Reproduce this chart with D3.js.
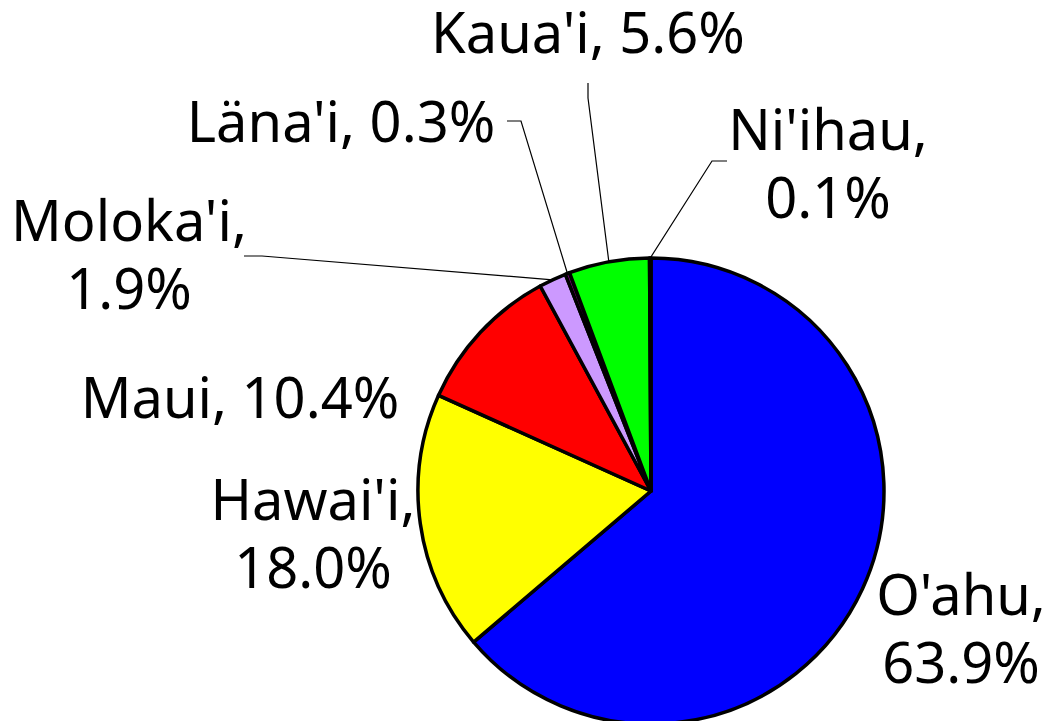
<!DOCTYPE html>
<html>
<head>
<meta charset="utf-8">
<script src="https://cdn.jsdelivr.net/npm/d3@7"></script>
<style>
  body { margin: 0; background: #fff; }
  text { font-family: "Noto Sans", sans-serif; font-size: 56px; fill: #000; }
</style>
</head>
<body>
<div id="chart"></div>
<script>
// island share of population (%)
const islands = ["O'ahu", "Hawai'i", "Maui", "Moloka'i", "Läna'i", "Kaua'i", "Ni'ihau"];
const shares = [63.9, 18.0, 10.4, 1.9, 0.3, 5.6, 0.1];
const colors = ["#0000ff", "#ffff00", "#ff0000", "#cc99ff", "#800080", "#00ff00", "#00ffff"];

// label placement: lines of text, centre x, first baseline, leader elbow (or null)
const labelLayout = [
    { lines: ["O'ahu,", "63.9%"], x: 961, y: 615, elbow: null },
    { lines: ["Hawai'i,", "18.0%"], x: 313, y: 520, elbow: null },
    { lines: ["Maui, 10.4%"], x: 240, y: 418, elbow: null },
    { lines: ["Moloka'i,", "1.9%"], x: 129, y: 241, elbow: [[244, 256], [262, 256]] },
    { lines: ["Läna'i, 0.3%"], x: 341, y: 142, elbow: [[507, 121], [521, 121]] },
    { lines: ["Kaua'i, 5.6%"], x: 588, y: 53, elbow: [[588, 83], [588, 98]] },
    { lines: ["Ni'ihau,", "0.1%"], x: 828, y: 150, elbow: [[727, 161], [712, 161]] }
];

const width = 1049, height = 721;
const cx = 651, cy = 491, radius = 233;
const lineHeight = 68;

const svg = d3.select("#chart").append("svg")
    .attr("width", width)
    .attr("height", height);

const data = islands.map((name, i) => ({ name, value: shares[i], color: colors[i], layout: labelLayout[i] }));

const pie = d3.pie().sort(null).value(d => d.value);
const arc = d3.arc().innerRadius(0).outerRadius(radius);
const arcs = pie(data);

const g = svg.append("g").attr("transform", `translate(${cx},${cy})`);

// slices
g.selectAll(".slice")
    .data(arcs)
    .enter()
    .append("path")
    .attr("class", "slice")
    .attr("d", arc)
    .attr("fill", d => d.data.color)
    .attr("stroke", "#000")
    .attr("stroke-width", 3.5)
    .attr("stroke-linejoin", "round");

// leader lines
arcs.filter(d => d.data.layout.elbow).forEach(d => {
    const mid = (d.startAngle + d.endAngle) / 2;
    const end = [cx + radius * Math.sin(mid), cy - radius * Math.cos(mid)];
    const pts = d.data.layout.elbow.concat([end]);
    svg.append("path")
        .attr("d", d3.line()(pts))
        .attr("fill", "none")
        .attr("stroke", "#000")
        .attr("stroke-width", 1.2);
});

// labels
arcs.forEach(d => {
    const lay = d.data.layout;
    const t = svg.append("text")
        .attr("text-anchor", "middle")
        .attr("x", lay.x)
        .attr("y", lay.y);
    lay.lines.forEach((line, i) => {
        t.append("tspan")
            .attr("x", lay.x)
            .attr("dy", i === 0 ? 0 : lineHeight)
            .text(line);
    });
});
</script>
</body>
</html>
